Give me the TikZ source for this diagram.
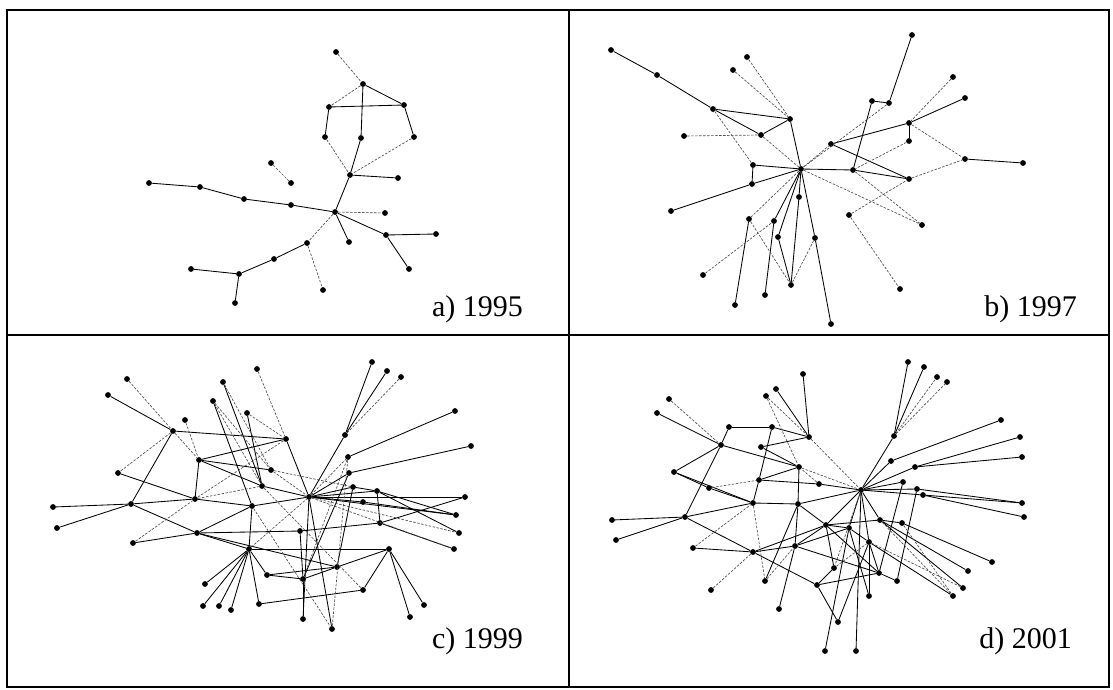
\documentclass[tikz,border=0pt]{standalone}
\usepackage{fontspec}
\setmainfont{Liberation Serif}
\begin{document}
\begin{tikzpicture}[x=1pt,y=-1pt,
  dot/.style={circle,fill=black,inner sep=0pt,minimum size=5.8pt},
  link/.style={black,line width=0.85pt},
  faint/.style={black!70,line width=0.65pt,dash pattern=on 2.5pt off 1.5pt},
  frame/.style={black,line width=2.6pt},
  yearlabel/.style={anchor=base east,inner sep=0pt,font=\fontsize{30}{30}\selectfont}]
\useasboundingbox (0,0) rectangle (1113,690);
\fill[white] (0,0) rectangle (1113,690);

% ---------- a) 1995 ----------
\foreach \n/\x/\y in {a1/336/52,a2/363/84,a3/329/107,a4/404/105,a5/325/137,a6/361/138,
  a7/414/137,a8/271/163,a9/291/183,a10/350/175,a11/398/178,a12/149/183,a13/200/187,
  a14/244/199,a15/291/205,a16/335/212,a17/385/213,a18/386/235,a19/436/234,a20/349/242,
  a21/307/243,a22/409/269,a23/274/259,a24/191/269,a25/239/274,a26/323/290,a27/235/303}
  \node[dot] (\n) at (\x,\y) {};
\foreach \p/\q in {a2/a4,a3/a4,a2/a6,a3/a5,a4/a7,a6/a10,a10/a11,a10/a16,
  a12/a13,a13/a14,a14/a15,a15/a16,a16/a18,a18/a19,a18/a22,a16/a20,
  a21/a23,a23/a25,a24/a25,a25/a27}
  \draw[link] (\p) -- (\q);
\foreach \p/\q in {a1/a2,a2/a3,a5/a10,a7/a10,a8/a9,a16/a21,a21/a26,a16/a17}
  \draw[faint] (\p) -- (\q);

% ---------- b) 1997 ----------
\foreach \n/\x/\y in {b1/611/50,b2/657/75,b3/747/57,b4/733/70,b5/713/109,b6/790/119,
  b7/684/136,b8/761/135,b9/753/165,b10/801/169,b11/752/184,b12/671/211,b13/799/197,
  b14/749/219,b15/774/221,b16/778/237,b17/815/238,b18/703/275,b19/765/295,b20/791/285,
  b21/735/305,b22/831/324,b23/831/144,b24/853/170,b25/849/215,b26/912/35,b27/953/77,
  b28/965/98,b29/872/101,b30/889/103,b31/909/123,b32/909/141,b33/909/179,b34/965/159,
  b35/1023/163,b36/922/225,b37/900/289}
  \node[dot] (\n) at (\x,\y) {};
\foreach \p/\q in {b1/b2,b2/b5,b5/b6,b5/b8,b8/b6,b6/b10,b9/b10,b9/b11,b12/b11,b11/b10,
  b10/b24,b10/b13,b13/b20,b10/b15,b10/b16,b10/b17,b17/b22,b14/b21,b15/b19,b16/b20,
  b23/b31,b23/b33,b29/b30,b26/b30,b29/b24,b31/b32,b31/b28,b34/b35,b24/b33}
  \draw[link] (\p) -- (\q);
\foreach \p/\q in {b3/b6,b4/b6,b5/b9,b7/b8,b8/b10,b10/b23,b10/b14,b18/b15,b14/b20,
  b17/b20,b10/b36,b25/b37,b31/b34,b32/b24,b25/b33,b33/b34,b27/b31,b30/b10,b24/b36}
  \draw[faint] (\p) -- (\q);

% ---------- c) 1999 ----------
\foreach \n/\x/\y in {c1/127/379,c2/108/395,c3/257/369,c4/223/382,c5/213/401,c6/247/413,
  c7/185/420,c8/173/431,c9/286/439,c10/199/460,c11/118/473,c12/271/470,c13/262/486,
  c14/195/499,c15/53/507,c16/131/504,c17/252/506,c18/57/528,c19/197/533,c20/133/543,
  c21/249/549,c22/267/575,c23/205/584,c24/203/606,c25/219/606,c26/231/610,c27/259/604,
  c28/372/362,c29/387/371,c30/401/377,c31/455/411,c32/471/446,c33/345/435,c34/348/457,
  c35/349/473,c36/353/487,c37/309/497,c38/377/491,c39/363/502,c40/465/497,c41/456/515,
  c42/380/523,c43/459/533,c44/300/531,c45/454/549,c46/389/549,c47/337/567,c48/303/579,
  c49/363/590,c50/424/605,c51/410/617,c52/303/619,c53/332/629}
  \node[dot] (\n) at (\x,\y) {};
\foreach \p/\q in {c2/c8,c8/c9,c8/c16,c4/c13,c5/c17,c6/c13,c9/c10,c9/c37,c10/c12,
  c10/c13,c10/c14,c11/c14,c13/c37,c14/c17,c14/c16,c15/c16,c18/c16,c16/c19,c17/c37,
  c17/c21,c17/c19,c19/c20,c19/c44,c19/c21,c19/c47,c21/c23,c21/c24,c21/c25,c21/c26,
  c21/c27,c21/c22,c21/c46,c22/c48,c27/c49,c33/c28,c33/c29,c37/c33,c34/c31,c35/c32,
  c37/c35,c37/c36,c37/c38,c37/c39,c37/c40,c37/c41,c38/c42,c38/c41,c38/c43,c39/c41,
  c42/c40,c46/c50,c46/c51,c46/c47,c46/c49,c44/c48,c48/c52,c42/c44,c36/c47,c35/c48,
  c37/c53,c37/c52,c47/c48,c42/c45,c22/c47,c36/c38}
  \draw[link] (\p) -- (\q);
\foreach \p/\q in {c1/c8,c7/c10,c8/c11,c8/c10,c3/c9,c5/c12,c6/c9,c9/c14,c12/c37,
  c14/c13,c17/c53,c20/c14,c21/c37,c33/c30,c37/c34,c37/c43,c34/c53,c13/c49,c37/c45,
  c34/c48,c12/c36,c4/c12,c5/c13}
  \draw[faint] (\p) -- (\q);

% ---------- d) 2001 ----------
\foreach \n/\x/\y in {d1/803/374,d2/776/389,d3/766/396,d4/669/399,d5/657/413,d6/729/427,
  d7/772/427,d8/809/437,d9/721/445,d10/761/447,d11/799/467,d12/674/472,d13/759/480,
  d14/819/484,d15/709/488,d16/753/503,d17/798/504,d18/612/520,d19/685/517,d20/616/540,
  d21/826/525,d22/693/548,d23/753/552,d24/795/546,d25/834/568,d26/765/581,d27/817/585,
  d28/711/590,d29/779/609,d30/838/622,d31/908/362,d32/924/367,d33/937/377,d34/947/382,
  d35/894/436,d36/1001/420,d37/1020/437,d38/1022/457,d39/891/461,d40/915/467,
  d41/903/482,d42/861/490,d43/917/489,d44/923/495,d45/1022/503,d46/1024/517,
  d47/880/520,d48/902/523,d49/849/528,d50/869/542,d51/992/562,d52/968/571,
  d53/879/573,d54/897/581,d55/963/588,d56/953/596,d57/869/596,d58/825/651,d59/856/651}
  \node[dot] (\n) at (\x,\y) {};
\foreach \p/\q in {d1/d8,d2/d8,d5/d9,d6/d7,d6/d9,d7/d8,d7/d13,d10/d8,d10/d11,d9/d11,
  d9/d19,d9/d12,d12/d15,d15/d16,d13/d14,d13/d16,d16/d17,d16/d19,d11/d17,d11/d13,
  d14/d42,d17/d21,d17/d42,d17/d24,d18/d19,d20/d19,d19/d23,d22/d23,d23/d21,d23/d24,
  d23/d27,d26/d17,d29/d24,d27/d25,d27/d30,d27/d53,d25/d21,d30/d50,d21/d42,d21/d49,
  d21/d47,d42/d35,d35/d31,d35/d32,d42/d39,d42/d40,d42/d41,d42/d43,d42/d44,d39/d36,
  d40/d37,d40/d38,d44/d45,d44/d46,d43/d45,d47/d48,d47/d52,d47/d55,d48/d51,d49/d50,
  d50/d56,d50/d53,d50/d57,d53/d54,d41/d53,d43/d54,d58/d49,d59/d42,d42/d49,d42/d50,
  d42/d47,d24/d21,d24/d49,d12/d16,d24/d53,d49/d57,d21/d53}
  \draw[link] (\p) -- (\q);
\foreach \p/\q in {d3/d8,d3/d11,d4/d9,d15/d13,d11/d42,d8/d42,d22/d16,d28/d23,d35/d33,
  d35/d34,d50/d55,d16/d26,d14/d11,d48/d56,d42/d25,d47/d56,d25/d50,d26/d24}
  \draw[faint] (\p) -- (\q);

% ---------- frame and captions ----------
\draw[frame] (7,10) rectangle (1109,687);
\draw[frame] (569,10) -- (569,687);
\draw[black,line width=1.4pt] (7,335) -- (1109,335);
\node[yearlabel] (la) at (523,316) {a) 1995};
\node[yearlabel] (lb) at (1077,316) {b) 1997};
\node[yearlabel] (lc) at (523,648) {c) 1999};
\node[yearlabel] (ld) at (1072,648) {d) 2001};
\end{tikzpicture}
\end{document}
